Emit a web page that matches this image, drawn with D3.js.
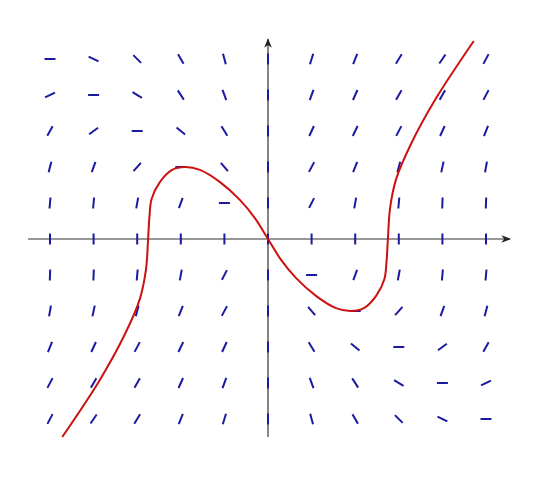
<!DOCTYPE html>
<html>
<head>
<meta charset="utf-8">
<script src="https://cdn.jsdelivr.net/npm/d3@7"></script>
<style>body{margin:0;background:#fff}</style>
</head>
<body>
<svg id="chart" width="540" height="478"></svg>
<script>
// grid values
const xs = [-5, -4, -3, -2, -1, 0, 1, 2, 3, 4, 5]
const ys = [5, 4, 3, 2, 1, 0, -1, -2, -3, -4, -5]

// segment angle (degrees, screen) for each grid point, row by row (y = 5 .. -5)
const angles = [
  [0, -26, -45, -60, -75, 90, 73, 68, 58, 56, 62],
  [26, 0, -31, -57, -70, 90, 70, 66, 60, 60, 62],
  [61, 36, 0, -39, -58, 90, 65, 64, 62, 65, 68],
  [76, 70, 48, 0, -50, 90, 62, 68, 75, 78, 80],
  [85, 85, 80, 70, 0, 90, 63, 80, 85, 88, 88],
  [90, 90, 90, 90, 90, 90, 90, 90, 90, 90, 90],
  [88, 88, 85, 80, 63, 90, 0, 70, 80, 85, 85],
  [80, 78, 75, 68, 62, 90, -50, 0, 48, 70, 76],
  [68, 65, 62, 64, 65, 90, -58, -39, 0, 36, 61],
  [62, 60, 60, 66, 70, 90, -70, -57, -31, 0, 26],
  [62, 56, 58, 68, 73, 90, -75, -60, -45, -26, 0]
]

// red curve
const curveX = [-4.72, -3.85, -3.28, -2.94, -2.8, -2.75, -2.72, -2.67, -2.48, -2.2, -1.9, -1.56, -1.1, -0.64, -0.3, 0,
  0.3, 0.64, 1.1, 1.56, 1.9, 2.2, 2.48, 2.67, 2.72, 2.75, 2.8, 2.94, 3.28, 3.85, 4.72]
const curveY = [-5.5, -3.9, -2.64, -1.67, -0.86, 0, 0.6, 1.11, 1.58, 1.92, 2.0, 1.92, 1.58, 1.08, 0.58, 0,
  -0.58, -1.08, -1.58, -1.92, -2.0, -1.92, -1.58, -1.11, -0.6, 0, 0.86, 1.67, 2.64, 3.9, 5.5]

const svg = d3.select("#chart")
const x = d3.scaleLinear().domain([0, 5]).range([268, 486])
const y = d3.scaleLinear().domain([0, 5]).range([239, 59])

svg.append("defs").append("marker")
    .attr("id", "arr").attr("viewBox", "0 0 10 10").attr("refX", 9).attr("refY", 5)
    .attr("markerWidth", 8).attr("markerHeight", 8).attr("orient", "auto")
  .append("path").attr("d", "M0,1 L10,5 L0,9 L3,5 Z").attr("fill", "#222")

// axes
svg.append("line").attr("x1", 28).attr("x2", x(5.55)).attr("y1", y(0)).attr("y2", y(0))
    .attr("stroke", "#333").attr("stroke-width", 1.2).attr("marker-end", "url(#arr)")
svg.append("line").attr("x1", x(0)).attr("x2", x(0)).attr("y1", y(-5.5)).attr("y2", y(5.55))
    .attr("stroke", "#333").attr("stroke-width", 1.2).attr("marker-end", "url(#arr)")

// slope field
const half = 5.5
const segs = []
ys.forEach((yv, i) => xs.forEach((xv, j) => segs.push({ xv, yv, a: angles[i][j] * Math.PI / 180 })))
svg.append("g").selectAll("line").data(segs).join("line")
    .attr("x1", d => x(d.xv) - half * Math.cos(d.a))
    .attr("x2", d => x(d.xv) + half * Math.cos(d.a))
    .attr("y1", d => y(d.yv) + half * Math.sin(d.a))
    .attr("y2", d => y(d.yv) - half * Math.sin(d.a))
    .attr("stroke", "#1a1aa0").attr("stroke-width", 2)

// curve
const line = d3.line().x(d => x(d[0])).y(d => y(d[1])).curve(d3.curveCatmullRom.alpha(0.5))
svg.append("path").datum(d3.zip(curveX, curveY)).attr("d", line)
    .attr("fill", "none").attr("stroke", "#cc1111").attr("stroke-width", 2)
</script>
</body>
</html>
